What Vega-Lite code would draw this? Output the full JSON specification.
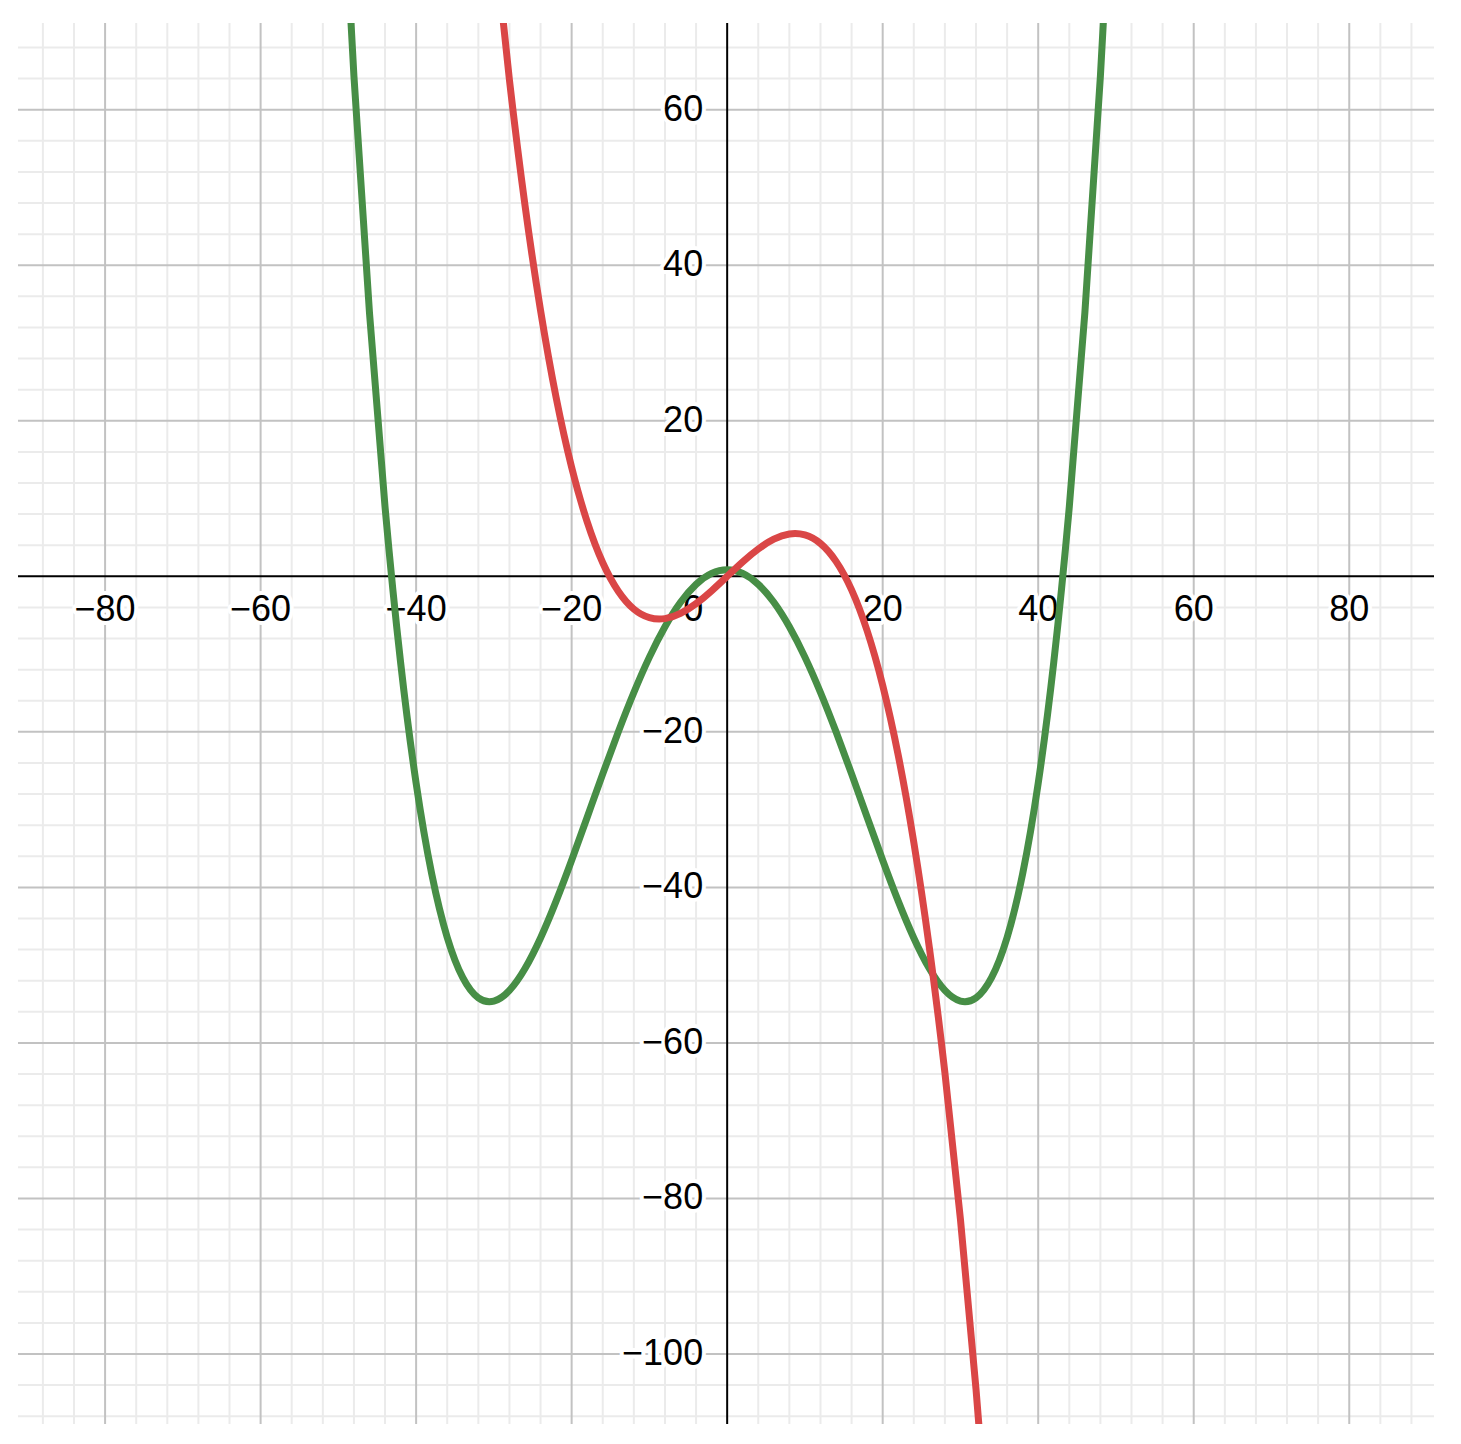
{
  "$schema": "https://vega.github.io/schema/vega-lite/v6.json",
  "width": 1416,
  "height": 1401,
  "autosize": {"type": "none"},
  "padding": {"left": 18, "top": 23, "right": 27, "bottom": 20},
  "background": "white",
  "config": {"view": {"stroke": null}, "axis": {"disable": true}},
  "datasets": {
    "green": [
      {"x": -52, "y": 144.08}, {"x": -50, "y": 100.88}, {"x": -48, "y": 64.35}, {"x": -46, "y": 33.89}, {"x": -44, "y": 8.94},
      {"x": -42, "y": -11.05}, {"x": -40, "y": -26.61}, {"x": -38, "y": -38.25}, {"x": -36, "y": -46.43},
      {"x": -34, "y": -51.6}, {"x": -32, "y": -54.2}, {"x": -30, "y": -54.62},
      {"x": -28, "y": -53.25}, {"x": -26, "y": -50.44}, {"x": -24, "y": -46.51}, {"x": -22, "y": -41.77},
      {"x": -20, "y": -36.51}, {"x": -18, "y": -30.98}, {"x": -16, "y": -25.4}, {"x": -14, "y": -20.0},
      {"x": -12, "y": -14.94}, {"x": -10, "y": -10.39}, {"x": -8, "y": -6.49}, {"x": -6, "y": -3.34},
      {"x": -4, "y": -1.03}, {"x": -2, "y": 0.38}, {"x": 0, "y": 0.85}, {"x": 2, "y": 0.38},
      {"x": 4, "y": -1.03}, {"x": 6, "y": -3.34}, {"x": 8, "y": -6.49}, {"x": 10, "y": -10.39},
      {"x": 12, "y": -14.94}, {"x": 14, "y": -20.0}, {"x": 16, "y": -25.4}, {"x": 18, "y": -30.98},
      {"x": 20, "y": -36.51}, {"x": 22, "y": -41.77}, {"x": 24, "y": -46.51}, {"x": 26, "y": -50.44},
      {"x": 28, "y": -53.25}, {"x": 30, "y": -54.62}, {"x": 32, "y": -54.2},
      {"x": 34, "y": -51.6}, {"x": 36, "y": -46.43}, {"x": 38, "y": -38.25}, {"x": 40, "y": -26.61},
      {"x": 42, "y": -11.05}, {"x": 44, "y": 8.94}, {"x": 46, "y": 33.89}, {"x": 48, "y": 64.35},
      {"x": 50, "y": 100.88}, {"x": 52, "y": 144.08}
    ],
    "red": [
      {"x": -32, "y": 104.5}, {"x": -30, "y": 82.68}, {"x": -28, "y": 63.82}, {"x": -26, "y": 47.72},
      {"x": -24, "y": 34.19}, {"x": -22, "y": 23.01}, {"x": -20, "y": 14.02}, {"x": -18, "y": 7.0},
      {"x": -16, "y": 1.74}, {"x": -14, "y": -1.92}, {"x": -12, "y": -4.22}, {"x": -10, "y": -5.32},
      {"x": -8, "y": -5.44}, {"x": -6, "y": -4.77}, {"x": -4, "y": -3.51}, {"x": -2, "y": -1.86},
      {"x": 0, "y": 0}, {"x": 2, "y": 1.86}, {"x": 4, "y": 3.51}, {"x": 6, "y": 4.77},
      {"x": 8, "y": 5.44}, {"x": 10, "y": 5.32}, {"x": 12, "y": 4.22}, {"x": 14, "y": 1.92},
      {"x": 16, "y": -1.74}, {"x": 18, "y": -7.0}, {"x": 20, "y": -14.02}, {"x": 22, "y": -23.01},
      {"x": 24, "y": -34.19}, {"x": 26, "y": -47.72}, {"x": 28, "y": -63.82}, {"x": 30, "y": -82.68},
      {"x": 32, "y": -104.5}, {"x": 34, "y": -129.48}, {"x": 36, "y": -157.81}
    ],
    "xminor": [
      {"v": -88}, {"v": -84}, {"v": -76}, {"v": -72}, {"v": -68}, {"v": -64}, {"v": -56}, {"v": -52},
      {"v": -48}, {"v": -44}, {"v": -36}, {"v": -32}, {"v": -28}, {"v": -24}, {"v": -16}, {"v": -12},
      {"v": -8}, {"v": -4}, {"v": 4}, {"v": 8}, {"v": 12}, {"v": 16}, {"v": 24}, {"v": 28},
      {"v": 32}, {"v": 36}, {"v": 44}, {"v": 48}, {"v": 52}, {"v": 56}, {"v": 64}, {"v": 68},
      {"v": 72}, {"v": 76}, {"v": 84}, {"v": 88}
    ],
    "xmajor": [
      {"v": -80}, {"v": -60}, {"v": -40}, {"v": -20}, {"v": 20}, {"v": 40}, {"v": 60}, {"v": 80}
    ],
    "yminor": [
      {"v": -108}, {"v": -104}, {"v": -96}, {"v": -92}, {"v": -88}, {"v": -84}, {"v": -76}, {"v": -72},
      {"v": -68}, {"v": -64}, {"v": -56}, {"v": -52}, {"v": -48}, {"v": -44}, {"v": -36}, {"v": -32},
      {"v": -28}, {"v": -24}, {"v": -16}, {"v": -12}, {"v": -8}, {"v": -4}, {"v": 4}, {"v": 8},
      {"v": 12}, {"v": 16}, {"v": 24}, {"v": 28}, {"v": 32}, {"v": 36}, {"v": 44}, {"v": 48},
      {"v": 52}, {"v": 56}, {"v": 64}, {"v": 68}
    ],
    "ymajor": [
      {"v": -100}, {"v": -80}, {"v": -60}, {"v": -40}, {"v": -20}, {"v": 20}, {"v": 40}, {"v": 60}
    ],
    "xlabels": [
      {"x": -80, "y": 0, "t": "−80"}, {"x": -60, "y": 0, "t": "−60"}, {"x": -40, "y": 0, "t": "−40"},
      {"x": -20, "y": 0, "t": "−20"}, {"x": 20, "y": 0, "t": "20"}, {"x": 40, "y": 0, "t": "40"},
      {"x": 60, "y": 0, "t": "60"}, {"x": 80, "y": 0, "t": "80"}
    ],
    "ylabels": [
      {"x": 0, "y": 60, "t": "60"}, {"x": 0, "y": 40, "t": "40"}, {"x": 0, "y": 20, "t": "20"},
      {"x": 0, "y": -20, "t": "−20"}, {"x": 0, "y": -40, "t": "−40"}, {"x": 0, "y": -60, "t": "−60"},
      {"x": 0, "y": -80, "t": "−80"}, {"x": 0, "y": -100, "t": "−100"}
    ],
    "origin": [{"x": 0, "y": 0, "t": "0"}]
  },
  "layer": [
    {
      "data": {"name": "xminor"},
      "mark": {"type": "rule", "color": "#ebebeb", "strokeWidth": 2},
      "encoding": {
        "x": {"field": "v", "type": "quantitative", "axis": null, "scale": {"domain": [-91.2, 90.9], "nice": false, "zero": false}}
      }
    },
    {
      "data": {"name": "yminor"},
      "mark": {"type": "rule", "color": "#ebebeb", "strokeWidth": 2},
      "encoding": {
        "y": {"field": "v", "type": "quantitative", "axis": null, "scale": {"domain": [-109.0, 71.15], "nice": false, "zero": false}}
      }
    },
    {
      "data": {"name": "xmajor"},
      "mark": {"type": "rule", "color": "#c2c2c2", "strokeWidth": 2},
      "encoding": {"x": {"field": "v", "type": "quantitative", "axis": null}}
    },
    {
      "data": {"name": "ymajor"},
      "mark": {"type": "rule", "color": "#c2c2c2", "strokeWidth": 2},
      "encoding": {"y": {"field": "v", "type": "quantitative", "axis": null}}
    },
    {
      "data": {"name": "xlabels"},
      "mark": {"type": "text", "font": "Liberation Sans", "fontSize": 36, "dy": 34, "align": "center", "baseline": "middle", "stroke": "white", "strokeWidth": 8, "fill": "white", "strokeJoin": "round"},
      "encoding": {"x": {"field": "x", "type": "quantitative", "axis": null}, "y": {"field": "y", "type": "quantitative", "axis": null}, "text": {"field": "t"}}
    },
    {
      "data": {"name": "xlabels"},
      "mark": {"type": "text", "font": "Liberation Sans", "fontSize": 36, "dy": 34, "align": "center", "baseline": "middle", "fill": "black"},
      "encoding": {"x": {"field": "x", "type": "quantitative", "axis": null}, "y": {"field": "y", "type": "quantitative", "axis": null}, "text": {"field": "t"}}
    },
    {
      "data": {"name": "ylabels"},
      "mark": {"type": "text", "font": "Liberation Sans", "fontSize": 36, "dx": -24, "align": "right", "baseline": "middle", "stroke": "white", "strokeWidth": 8, "fill": "white", "strokeJoin": "round"},
      "encoding": {"x": {"field": "x", "type": "quantitative", "axis": null}, "y": {"field": "y", "type": "quantitative", "axis": null}, "text": {"field": "t"}}
    },
    {
      "data": {"name": "ylabels"},
      "mark": {"type": "text", "font": "Liberation Sans", "fontSize": 36, "dx": -24, "align": "right", "baseline": "middle", "fill": "black"},
      "encoding": {"x": {"field": "x", "type": "quantitative", "axis": null}, "y": {"field": "y", "type": "quantitative", "axis": null}, "text": {"field": "t"}}
    },
    {
      "data": {"name": "origin"},
      "mark": {"type": "text", "font": "Liberation Sans", "fontSize": 36, "dx": -34, "dy": 34, "align": "center", "baseline": "middle", "fill": "black"},
      "encoding": {"x": {"field": "x", "type": "quantitative", "axis": null}, "y": {"field": "y", "type": "quantitative", "axis": null}, "text": {"field": "t"}}
    },
    {
      "data": {"name": "origin"},
      "mark": {"type": "rule", "color": "black", "strokeWidth": 2},
      "encoding": {"x": {"field": "x", "type": "quantitative", "axis": null}}
    },
    {
      "data": {"name": "origin"},
      "mark": {"type": "rule", "color": "black", "strokeWidth": 2},
      "encoding": {"y": {"field": "y", "type": "quantitative", "axis": null}}
    },
    {
      "data": {"name": "green"},
      "mark": {"type": "line", "color": "#478e46", "strokeWidth": 7, "interpolate": "natural", "clip": true, "strokeCap": "round"},
      "encoding": {"x": {"field": "x", "type": "quantitative", "axis": null}, "y": {"field": "y", "type": "quantitative", "axis": null}, "order": {"field": "x"}}
    },
    {
      "data": {"name": "red"},
      "mark": {"type": "line", "color": "#da4646", "strokeWidth": 7, "interpolate": "natural", "clip": true, "strokeCap": "round"},
      "encoding": {"x": {"field": "x", "type": "quantitative", "axis": null}, "y": {"field": "y", "type": "quantitative", "axis": null}, "order": {"field": "x"}}
    }
  ]
}
